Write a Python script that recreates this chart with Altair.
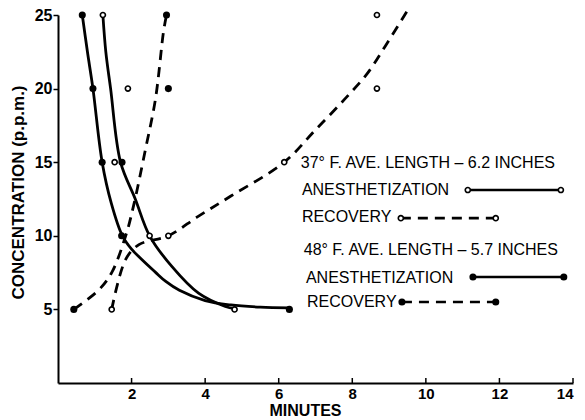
import altair as alt
import pandas as pd

# ---- data ----
# fitted curves (vertices)
a37_x = [1.22, 1.30, 1.43, 1.70, 2.10, 2.49, 3.10, 3.82, 4.55, 4.80]
a37_y = [25, 22.5, 20, 15, 12.5, 10, 7.9, 6.1, 5.2, 5.05]
a48_x = [0.66, 0.80, 0.95, 1.20, 1.45, 1.75, 2.00, 2.66, 2.93, 3.30, 4.00, 4.70, 5.50, 6.29]
a48_y = [25, 22.5, 20, 15, 12.2, 10, 9.1, 7.5, 6.9, 6.3, 5.6, 5.3, 5.15, 5.1]
r37_x = [1.46, 1.84, 2.20, 3.00, 3.80, 4.70, 6.15, 7.00, 7.80, 8.40, 8.90, 9.50]
r37_y = [5, 8.4, 9.4, 10, 11.3, 12.7, 15, 17.2, 19.3, 21.0, 22.9, 25.3]
r48_x = [0.43, 1.10, 1.46, 1.84, 2.05, 2.38, 2.65, 2.87, 2.95]
r48_y = [5, 6.3, 7.5, 10.0, 12.0, 15.9, 19.3, 23.9, 25]

# observed points
open_x = [1.22, 1.90, 1.54, 2.49, 3.00, 1.46, 4.80, 6.15, 8.67, 8.67]
open_y = [25, 20, 15, 10, 10, 5, 5, 15, 20, 25]
filled_x = [0.66, 0.95, 1.20, 1.74, 1.73, 0.43, 6.29, 2.95, 3.00]
filled_y = [25, 20, 15, 15, 10, 5, 5, 25, 20]

x_ticks = [2, 4, 6, 8, 10, 12, 14]
y_ticks = [5, 10, 15, 20, 25]

# in-plot key
key_text = ["37° F. AVE. LENGTH – 6.2 INCHES", "ANESTHETIZATION", "RECOVERY",
            "48° F. AVE. LENGTH – 5.7 INCHES", "ANESTHETIZATION", "RECOVERY"]
key_text_x = [6.60, 6.63, 6.63, 6.68, 6.74, 6.77]
key_text_y = [14.95, 13.11, 11.28, 9.04, 7.13, 5.50]
key_series = ["a37", "r37", "a48", "r48"]
key_x1 = [11.14, 9.32, 11.28, 9.35]
key_x2 = [13.67, 11.90, 13.75, 11.90]
key_y = [13.11, 11.20, 7.20, 5.50]
key_dashed = [False, True, False, True]
key_filled = [False, False, True, True]

# ---- tables ----
def curve(name, xs, ys, dashed):
    return pd.DataFrame({"series": name, "x": xs, "y": ys, "i": range(len(xs)), "dashed": dashed})

curves = pd.concat([
    curve("a37", a37_x, a37_y, False),
    curve("a48", a48_x, a48_y, False),
    curve("r37", r37_x, r37_y, True),
    curve("r48", r48_x, r48_y, True),
])
open_df = pd.DataFrame({"x": open_x, "y": open_y})
filled_df = pd.DataFrame({"x": filled_x, "y": filled_y})
text_df = pd.DataFrame({"t": key_text, "x": key_text_x, "y": key_text_y})
key_df = pd.DataFrame({"s": key_series, "x": key_x1, "x2": key_x2, "y": key_y,
                       "dashed": key_dashed, "filled": key_filled})
key_pts = pd.concat([
    pd.DataFrame({"x": key_x1, "y": key_y, "filled": key_filled}),
    pd.DataFrame({"x": key_x2, "y": key_y, "filled": key_filled}),
])
tick_df = pd.DataFrame({"x": x_ticks})

FONT = "Liberation Sans"
W, H = 515, 368

xs = alt.Scale(domain=[0, 14], nice=False, zero=False)
ys = alt.Scale(domain=[0, 25], nice=False, zero=False)

X = alt.X("x:Q", scale=xs, axis=alt.Axis(
    values=x_ticks, ticks=False, grid=False, labelPadding=3,
    labelFont=FONT, labelFontSize=15, labelFontWeight="bold", labelColor="black",
    domainColor="black", domainWidth=2,
    title="MINUTES", titleFont=FONT, titleFontSize=16, titleFontWeight="bold",
    titleColor="black", titleX=247, titleY=27, titleAlign="center", titleBaseline="middle"))
Y = alt.Y("y:Q", scale=ys, axis=alt.Axis(
    values=y_ticks, tickSize=5, tickWidth=1.5, tickColor="black", grid=False, labelPadding=1,
    labelFont=FONT, labelFontSize=16, labelFontWeight="bold", labelColor="black",
    domainColor="black", domainWidth=2,
    title="CONCENTRATION  (p.p.m.)", titleFont=FONT, titleFontSize=17, titleFontWeight="bold",
    titleColor="black", titleAngle=-90, titleX=-40, titleY=177,
    titleAlign="center", titleBaseline="middle"))

base = alt.Chart(curves)

solid = base.transform_filter("!datum.dashed").mark_line(
    interpolate="catmull-rom", color="black", strokeWidth=2.8, clip=False
).encode(x=X, y=Y, detail="series:N", order="i:Q")

dashed = base.transform_filter("datum.dashed").mark_line(
    interpolate="catmull-rom", color="black", strokeWidth=2.8, strokeDash=[10, 7], clip=False
).encode(x="x:Q", y="y:Q", detail="series:N", order="i:Q")

open_pts = alt.Chart(open_df).mark_point(
    shape="circle", filled=True, fill="white", stroke="black", strokeWidth=1.6, size=26, opacity=1
).encode(x="x:Q", y="y:Q")

filled_pts = alt.Chart(filled_df).mark_circle(color="black", size=50, opacity=1).encode(x="x:Q", y="y:Q")

inner_ticks = alt.Chart(tick_df).mark_rule(color="black", strokeWidth=1.5).encode(
    x="x:Q", y=alt.value(H - 5), y2=alt.value(H))

key_txt = alt.Chart(text_df).mark_text(
    align="left", baseline="middle", font=FONT, fontSize=16, color="black"
).encode(x="x:Q", y="y:Q", text="t:N")

key_solid = alt.Chart(key_df).transform_filter("!datum.dashed").mark_rule(
    color="black", strokeWidth=2.6).encode(x="x:Q", x2="x2:Q", y="y:Q")
key_dash = alt.Chart(key_df).transform_filter("datum.dashed").mark_rule(
    color="black", strokeWidth=2.6, strokeDash=[10, 7]).encode(x="x:Q", x2="x2:Q", y="y:Q")
key_open = alt.Chart(key_pts).transform_filter("!datum.filled").mark_point(
    shape="circle", filled=True, fill="white", stroke="black", strokeWidth=1.6, size=26, opacity=1
).encode(x="x:Q", y="y:Q")
key_fill = alt.Chart(key_pts).transform_filter("datum.filled").mark_circle(
    color="black", size=50, opacity=1).encode(x="x:Q", y="y:Q")

chart = alt.layer(
    solid, dashed, inner_ticks, open_pts, filled_pts,
    key_txt, key_solid, key_dash, key_open, key_fill
).properties(
    width=W, height=H,
    padding={"left": 58, "top": 15, "right": 12, "bottom": 37},
    autosize="none", background="white"
).configure_view(stroke=None)

chart.save("out.html", embed_options={"renderer": "svg", "actions": False})
